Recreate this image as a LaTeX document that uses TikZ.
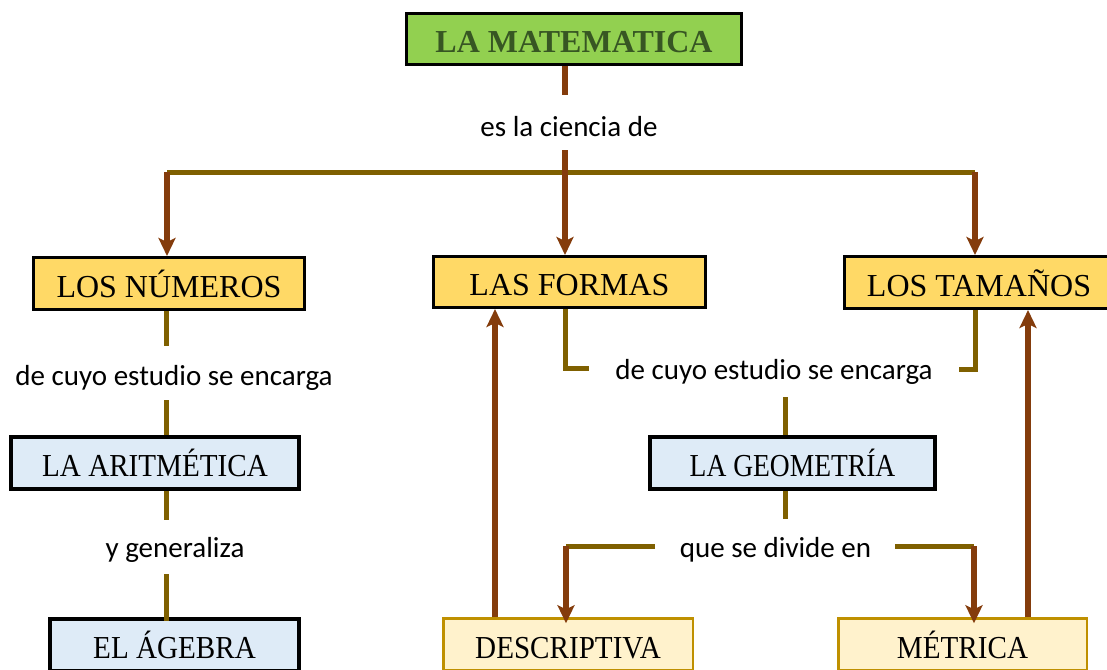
\documentclass[tikz,border=0pt]{standalone}
\usepackage{fontspec}
\usepackage{graphicx}
\setmainfont{Liberation Serif}
\newfontfamily\calfont{Carlito}
\usetikzlibrary{arrows.meta}
\definecolor{gfill}{HTML}{92D050}
\definecolor{gtext}{HTML}{375623}
\definecolor{yfill}{HTML}{FFD966}
\definecolor{bfill}{HTML}{DEEBF7}
\definecolor{lyfill}{HTML}{FFF2CC}
\definecolor{lyborder}{HTML}{BF9000}
\definecolor{brownc}{HTML}{843C0C}
\definecolor{olivec}{HTML}{7F6000}
\tikzset{
  box/.style={draw=black, inner sep=0pt, text height=27pt, text depth=0pt, font=\fontsize{32}{34}\selectfont},
  titlebox/.style={box, fill=gfill, line width=3pt, text=gtext, font=\fontsize{32}{34}\selectfont\bfseries},
  ybox/.style={box, fill=yfill, line width=3pt},
  bbox/.style={box, fill=bfill, line width=4pt},
  lybox/.style={box, fill=lyfill, draw=lyborder, line width=2.5pt},
  lbl/.style={inner sep=0pt, font=\calfont\fontsize{29}{31}\selectfont},
  bline/.style={draw=brownc, line width=5.5pt},
  oline/.style={draw=olivec, line width=5pt},
  barrow/.style={bline, -{Stealth[length=18pt,width=17pt,inset=4pt]}},
}
\newcommand{\cond}[2]{\scalebox{#1}[1]{#2}}
\begin{document}
\begin{tikzpicture}[x=1pt,y=-1pt]
\useasboundingbox (0,0) rectangle (1107,669);
\clip (0,0) rectangle (1107,669);
% boxes
\node[titlebox, minimum width=335pt, minimum height=51pt] (title) at (574,39) {LA MATEMATICA};
\node[ybox, minimum width=271pt, minimum height=52pt] (numeros) at (169,283.5) {LOS NÚMEROS};
\node[ybox, minimum width=272pt, minimum height=51pt] (formas) at (569.5,282) {LAS FORMAS};
\node[ybox, minimum width=270pt, minimum height=52pt] (tamanos) at (979,282.5) {LOS TAMAÑOS};
\node[bbox, minimum width=288pt, minimum height=52pt] (aritmetica) at (155,463) {\cond{0.91}{LA ARITMÉTICA}};
\node[bbox, minimum width=249pt, minimum height=52pt] (algebra) at (174.5,645) {\cond{0.91}{EL ÁGEBRA}};
\node[bbox, minimum width=285pt, minimum height=52pt] (geometria) at (792.5,463) {\cond{0.86}{LA GEOMETRÍA}};
\node[lybox, minimum width=249.5pt, minimum height=52pt] (descriptiva) at (568,644.5) {\cond{0.91}{DESCRIPTIVA}};
\node[lybox, minimum width=248.5pt, minimum height=52pt] (metrica) at (962.5,644.5) {\cond{0.91}{MÉTRICA}};
% labels
\node[lbl] (l1) at (569,127) {es la ciencia de};
\node[lbl] (l2) at (174,378) {de cuyo estudio se encarga};
\node[lbl] (l3) at (175,550) {y generaliza};
\node[lbl] (l4) at (774,372) {de cuyo estudio se encarga};
\node[lbl] (l5) at (775.5,550) {que se divide en};
% junction coordinates
\coordinate (j0) at (565,172);
\coordinate (jL) at (167,172);
\coordinate (jR) at (975,172);
\coordinate (t1) at (565,95);
\coordinate (t2) at (565,150);
\coordinate (n1) at (166,346);
\coordinate (n2) at (166,400);
\coordinate (a1) at (166,520);
\coordinate (a2) at (166,574);
\coordinate (f1) at (565,368);
\coordinate (f2) at (589,368);
\coordinate (m1) at (975,369);
\coordinate (m2) at (959,369);
\coordinate (g1) at (785,397);
\coordinate (g2) at (785,519);
\coordinate (d0) at (655,546);
\coordinate (d1) at (566,546);
\coordinate (e0) at (895,546);
\coordinate (e1) at (974,546);
\coordinate (u1) at (495,0);
\coordinate (u2) at (1028,0);
% title branch
\draw[bline] (title.south -| t1) -- (t1);
\draw[oline] (jL) -- (jR);
\draw[barrow] (t2) -- (formas.north -| j0);
\draw[barrow] (jL) -- (numeros.north -| jL);
\draw[barrow] (jR) -- (tamanos.north -| jR);
% numeros branch
\draw[oline] (numeros.south -| n1) -- (n1);
\draw[oline] (n2) -- (aritmetica.north -| n2);
\draw[oline] (aritmetica.south -| a1) -- (a1);
\draw[oline] (a2) -- ([yshift=-4pt]algebra.north -| a2);
% formas / tamanos to label
\draw[oline] (formas.south -| f1) -- (f1) -- (f2);
\draw[oline] (m2) -- (m1) -- (tamanos.south -| m1);
\draw[oline] (g1) -- (geometria.north -| g1);
\draw[oline] (geometria.south -| g2) -- (g2);
% divide
\draw[oline] (d0) -- (d1);
\draw[oline] (e0) -- (e1);
\draw[barrow] (d1) -- ([yshift=-6pt]descriptiva.north -| d1);
\draw[barrow] (e1) -- ([yshift=-6pt]metrica.north -| e1);
% upward arrows
\draw[barrow] (descriptiva.north -| u1) -- (formas.south -| u1);
\draw[barrow] (metrica.north -| u2) -- (tamanos.south -| u2);
\end{tikzpicture}
\end{document}
